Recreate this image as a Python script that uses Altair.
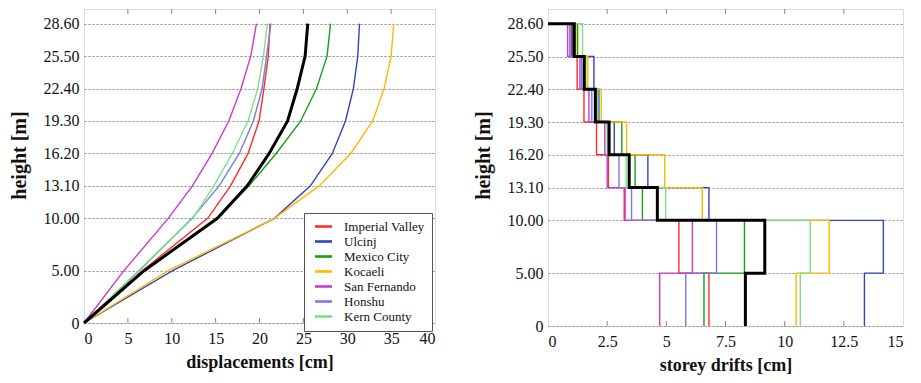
import altair as alt
import pandas as pd

# ---------------- data ----------------
heights = [0, 5, 10, 13.1, 16.2, 19.3, 22.4, 25.5, 28.6]
series = ["Imperial Valley", "Ulcinj", "Mexico City", "Kocaeli",
          "San Fernando", "Honshu", "Kern County"]
colors = ["#ff2b2b", "#3344bb", "#16a016", "#ffb800",
          "#cc3acc", "#7a7ae0", "#7fe07f"]

# displacements [cm] at each height (left panel)
disp_imperial = [0, 6.65, 14.1, 16.7, 18.7, 19.95, 20.5, 21.0, 21.2]
disp_ulcinj = [0, 10.1, 21.7, 25.8, 28.3, 29.8, 30.7, 31.2, 31.4]
disp_mexico = [0, 6.8, 15.2, 18.8, 21.9, 24.7, 26.5, 27.7, 28.1]
disp_kocaeli = [0, 9.6, 21.7, 26.8, 30.4, 32.9, 34.2, 35.0, 35.3]
disp_sanfernando = [0, 4.55, 9.6, 12.35, 14.6, 16.5, 17.9, 19.0, 19.65]
disp_honshu = [0, 6.3, 12.3, 15.4, 17.7, 19.3, 20.3, 20.8, 21.3]
disp_kern = [0, 6.2, 12.4, 14.8, 16.9, 18.7, 19.8, 20.45, 20.9]
disp_mean = [0, 6.85, 15.2, 18.6, 21.1, 23.2, 24.3, 25.2, 25.5]

# storey drifts [cm], storey 1 (bottom) .. storey 8 (top) (right panel)
drift_imperial = [6.80, 5.53, 3.22, 2.55, 2.05, 1.52, 1.23, 0.98]
drift_ulcinj = [13.37, 14.17, 6.80, 4.22, 2.80, 2.15, 1.94, 1.02]
drift_mexico = [6.59, 8.30, 3.99, 3.68, 3.12, 2.05, 1.55, 1.25]
drift_kocaeli = [10.48, 11.88, 6.52, 4.93, 3.32, 2.25, 1.68, 1.18]
drift_sanfernando = [4.72, 6.10, 3.26, 2.50, 2.40, 1.73, 1.35, 0.83]
drift_honshu = [5.82, 7.12, 3.53, 3.00, 2.60, 1.85, 1.42, 0.92]
drift_kern = [10.66, 11.08, 4.97, 3.30, 2.50, 2.10, 1.60, 1.46]
drift_mean = [8.34, 9.16, 4.62, 3.43, 2.58, 2.00, 1.53, 1.11]

x_ticks_left = [0, 5, 10, 15, 20, 25, 30, 35, 40]
x_ticks_right = [0, 2.5, 5, 7.5, 10, 12.5, 15]

disp_all = [disp_imperial, disp_ulcinj, disp_mexico, disp_kocaeli,
            disp_sanfernando, disp_honshu, disp_kern]
drift_all = [drift_imperial, drift_ulcinj, drift_mexico, drift_kocaeli,
             drift_sanfernando, drift_honshu, drift_kern]

# ---------------- tables ----------------
def disp_rows(name, vals):
    return [{"series": name, "h": h, "d": v, "o": i}
            for i, (h, v) in enumerate(zip(heights, vals))]

def drift_rows(name, vals):
    pts = [(0, heights[-1])]
    for i in range(len(vals) - 1, -1, -1):
        pts.append((vals[i], heights[i + 1]))
        pts.append((vals[i], heights[i]))
    return [{"series": name, "d": x, "h": y, "o": k} for k, (x, y) in enumerate(pts)]

left_df = pd.DataFrame(sum([disp_rows(n, v) for n, v in zip(series, disp_all)], []))
left_mean = pd.DataFrame(disp_rows("mean", disp_mean))
right_df = pd.DataFrame(sum([drift_rows(n, v) for n, v in zip(series, drift_all)], []))
right_mean = pd.DataFrame(drift_rows("mean", drift_mean))

FONT = "Liberation Serif"
label_expr = "datum.value == 0 ? '0' : format(datum.value, '.2f')"

def y_enc(title_pad=14):
    return alt.Y("h:Q", scale=alt.Scale(domain=[0, 30], nice=False, zero=True),
                 axis=alt.Axis(values=heights, tickCount=50, labelExpr=label_expr,
                               title="height [m]",
                               grid=True, gridDash=[2, 2], gridColor="#8a8a8a",
                               gridOpacity=1, tickSize=0, domain=False,
                               labelOverlap=False,
                               labelFontSize=16, labelFont=FONT, labelColor="#111",
                               labelPadding=5, titleFont=FONT, titleFontSize=20,
                               titleFontWeight="bold", titleColor="#111",
                               titlePadding=title_pad, titleY=146))

def x_enc(domain, ticks, title):
    return alt.X("d:Q", scale=alt.Scale(domain=domain, nice=False),
                 axis=alt.Axis(values=ticks, tickCount=50, labelExpr="datum.value + ''",
                               title=title, grid=False, labelOverlap=False,
                               tickSize=0, domain=False, labelFontSize=16,
                               labelFont=FONT, labelColor="#111", labelPadding=7,
                               titleFont=FONT, titleFontSize=18, titleFontWeight="bold",
                               titleColor="#111", titlePadding=7))

def inner_ticks(ticks, h):
    df = pd.DataFrame({"d": ticks[1:-1]})
    top = alt.Chart(df).mark_rule(color="#888", strokeWidth=1).encode(
        x="d:Q", y=alt.value(0), y2=alt.value(5))
    bottom = alt.Chart(df).mark_rule(color="#888", strokeWidth=1).encode(
        x="d:Q", y=alt.value(h), y2=alt.value(h - 5))
    return [top, bottom]

color_scale = alt.Scale(domain=series, range=colors)

left_lines = alt.Chart(left_df).mark_line(strokeWidth=1.4).encode(
    x=x_enc([0, 40], x_ticks_left, "displacements [cm]"),
    y=y_enc(),
    color=alt.Color("series:N", scale=color_scale, sort=series,
                    legend=alt.Legend(title=None, orient="none", legendX=220, legendY=204,
                                      symbolType="M-1.7,0H1.7", symbolSize=100,
                                      symbolStrokeWidth=2.6, symbolOffset=6,
                                      labelFont=FONT, labelFontSize=13, labelColor="#111",
                                      labelOffset=14, rowPadding=1, padding=7,
                                      strokeColor="#555", fillColor="white")),
    order="o:Q",
)
left_black = alt.Chart(left_mean).mark_line(strokeWidth=3, color="black").encode(
    x="d:Q", y="h:Q", order="o:Q")
left = alt.layer(left_lines, *inner_ticks(x_ticks_left, 314), left_black).properties(
    width=351, height=314)

right_lines = alt.Chart(right_df).mark_line(strokeWidth=1.4).encode(
    x=x_enc([0, 15], x_ticks_right, "storey drifts [cm]"),
    y=y_enc(),
    color=alt.Color("series:N", scale=color_scale, sort=series, legend=None),
    order="o:Q",
)
right_black = alt.Chart(right_mean).mark_line(strokeWidth=3, color="black").encode(
    x="d:Q", y="h:Q", order="o:Q")
right = alt.layer(right_lines, *inner_ticks(x_ticks_right, 317), right_black).properties(
    width=355, height=317)

chart = alt.hconcat(left, right, spacing=36).resolve_legend(color="independent").properties(
    padding={"left": 8, "top": 8, "right": 5, "bottom": 5},
    background="white",
).configure_view(stroke="#999", strokeWidth=1).configure(font=FONT).configure_axis(
    labelFont=FONT, titleFont=FONT)

chart.save("out.html", embed_options={"renderer": "svg", "actions": False})
